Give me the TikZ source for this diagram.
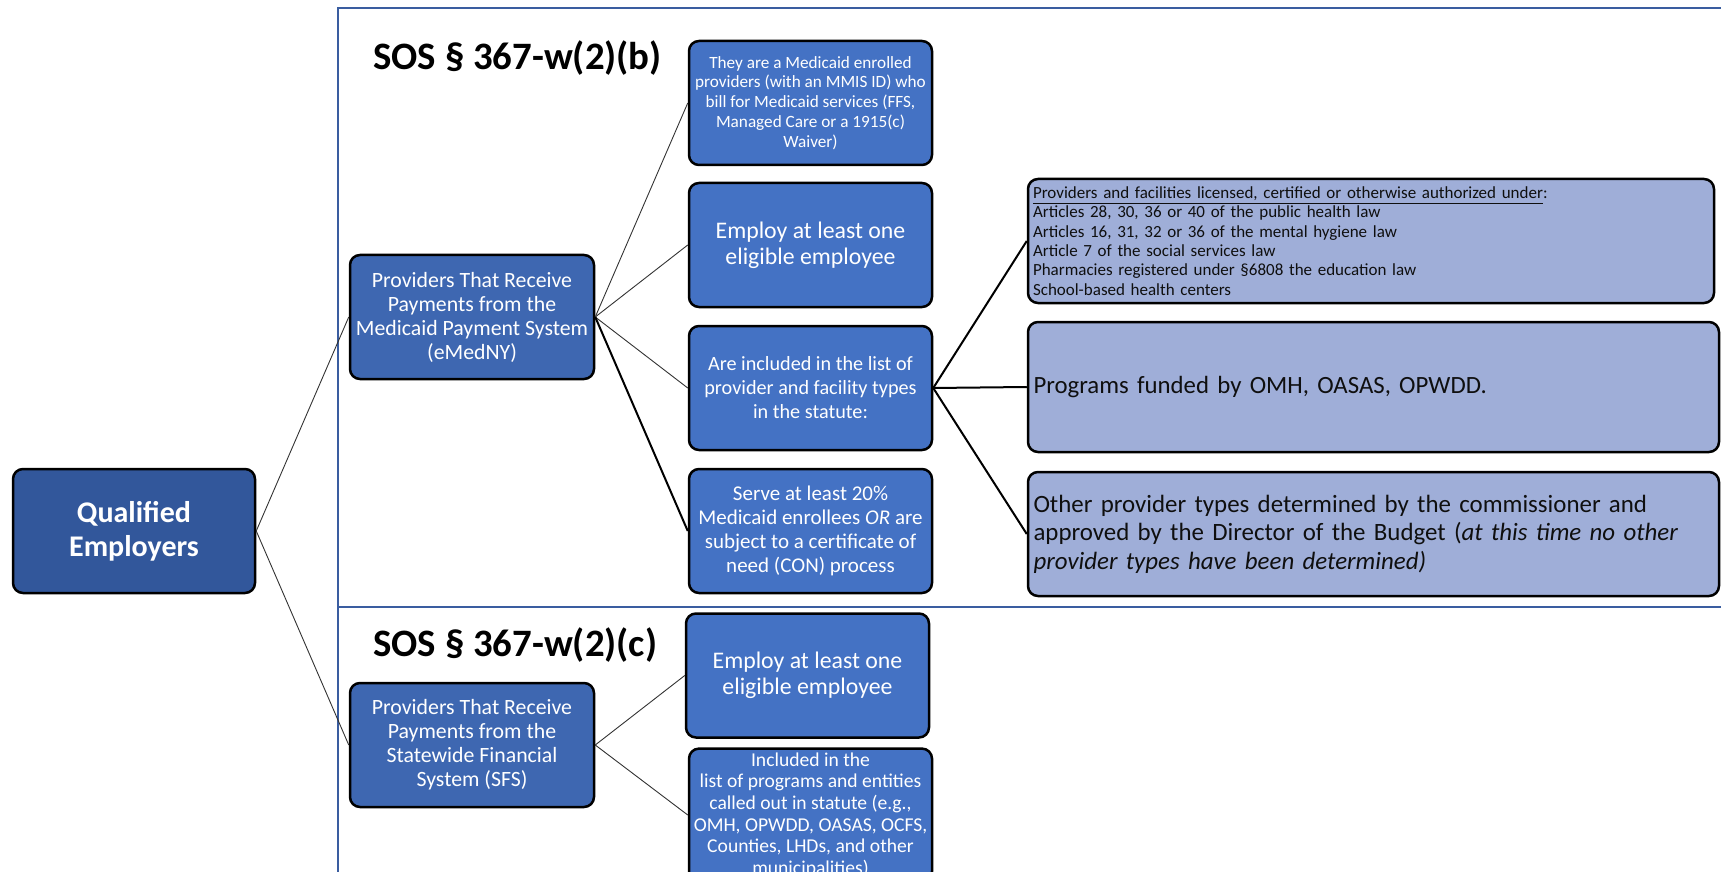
\documentclass[tikz,border=0pt]{standalone}
\usepackage{fontspec}
\setmainfont{Carlito}
\definecolor{framec}{RGB}{58,93,160}
\definecolor{qualc}{RGB}{50,87,155}
\definecolor{midc}{RGB}{62,103,177}
\definecolor{colc}{RGB}{68,114,196}
\definecolor{lightc}{RGB}{159,174,216}
\definecolor{darktext}{RGB}{15,15,15}
\begin{document}
\begin{tikzpicture}[x=0.5pt,y=-0.5pt,
  basebox/.style={draw=black, line width=1.25pt, rounded corners=5pt, inner sep=2pt, align=center},
  qualbox/.style={basebox, fill=qualc, text=white, minimum width=121pt, minimum height=62pt, font=\fontsize{15}{17}\selectfont\bfseries},
  midbox/.style={basebox, fill=midc, text=white, minimum width=122pt, minimum height=62pt, font=\fontsize{10.9}{12}\selectfont},
  colbox/.style={basebox, fill=colc, text=white, minimum width=121.5pt, minimum height=62pt},
  lightbox/.style={basebox, fill=lightc, text=darktext, align=left, inner xsep=2.5pt},
  thin/.style={draw=black!80, line width=0.45pt},
  thick/.style={draw=black, line width=1pt},
  framel/.style={draw=framec, line width=1pt},
  titlet/.style={font=\fontsize{19.4}{22}\selectfont\bfseries, text=black, inner sep=0pt}
]
\useasboundingbox (0,0) rectangle (1721,872);
\clip (0,0) rectangle (1721,872);
% frame
\coordinate (ftl) at (338,8);
\coordinate (ftr) at (1725,8);
\coordinate (fbl) at (338,876);
\coordinate (fdl) at (338,607);
\coordinate (fdr) at (1725,607);
\draw[framel] (ftr) -- (ftl) -- (fbl);
\draw[framel] (fdl) -- (fdr);
% titles
\node[titlet, anchor=west] (tb) at (373,58) {SOS § 367-w(2)(b)};
\node[titlet, anchor=west] (tc) at (373,645) {SOS § 367-w(2)(c)};
% left
\node[qualbox] (q) at (134,531) {Qualified\\Employers};
\node[midbox] (m) at (472,317) {Providers That Receive\\Payments from the\\Medicaid Payment System\\(eMedNY)};
\node[midbox] (s) at (472,745) {Providers That Receive\\Payments from the\\Statewide Financial\\System (SFS)};
% column 2
\node[colbox, font=\fontsize{8.6}{9.9}\selectfont] (b1) at (810.5,103) {They are a Medicaid enrolled\\providers (with an MMIS ID) who\\bill for Medicaid services (FFS,\\Managed Care or a 1915(c)\\Waiver)};
\node[colbox, font=\fontsize{11.9}{13}\selectfont] (b2) at (810.5,245) {Employ at least one\\eligible employee};
\node[colbox, font=\fontsize{10.1}{12}\selectfont] (b3) at (810.5,388) {Are included in the list of\\provider and facility types\\in the statute:};
\node[colbox, font=\fontsize{10.5}{12}\selectfont] (b4) at (810.5,531) {Serve at least 20\%\\Medicaid enrollees \textit{OR} are\\subject to a certificate of\\need (CON) process};
\node[colbox, font=\fontsize{11.9}{13}\selectfont] (b5) at (807.5,675.5) {Employ at least one\\eligible employee};
\node[colbox, font=\fontsize{9.8}{10.8}\selectfont] (b6) at (810.5,815) {Included in the\\list of programs and entities\\called out in statute (e.g.,\\OMH, OPWDD, OASAS, OCFS,\\Counties, LHDs, and other\\municipalities)};
% column 3
\node[lightbox, minimum width=343pt, minimum height=62pt, text width=338pt, font=\fontsize{8.5}{9.65}\selectfont] (ca) at (1371,241) {\underline{Providers and facilities licensed, certified or otherwise authorized under}:\\Articles 28, 30, 36 or 40 of the public health law\\Articles 16, 31, 32 or 36 of the mental hygiene law\\Article 7 of the social services law\\Pharmacies registered under §6808 the education law\\School-based health centers};
\node[lightbox, minimum width=345.5pt, minimum height=65pt, text width=340pt, font=\fontsize{12.4}{14}\selectfont] (cb) at (1373.5,387) {Programs funded by OMH, OASAS, OPWDD.};
\node[lightbox, minimum width=345.5pt, minimum height=62pt, text width=340pt, font=\fontsize{12.45}{14.3}\selectfont] (cc) at (1373.5,534) {Other provider types determined by the commissioner and\\approved by the Director of the Budget (\textit{at this time no other}\\\textit{provider types have been determined)}};
% connectors
\draw[thin] (q.east) -- (m.west);
\draw[thin] (q.east) -- (s.west);
\draw[thin] (m.east) -- (b1.west);
\draw[thin] (m.east) -- (b2.west);
\draw[thin] (m.east) -- (b3.west);
\draw[thick] (m.east) -- (b4.west);
\draw[thick] (b3.east) -- (ca.west);
\draw[thick] (b3.east) -- (cb.west);
\draw[thick] (b3.east) -- (cc.west);
\draw[thin] (s.east) -- (b5.west);
\draw[thin] (s.east) -- (b6.west);
\end{tikzpicture}
\end{document}
